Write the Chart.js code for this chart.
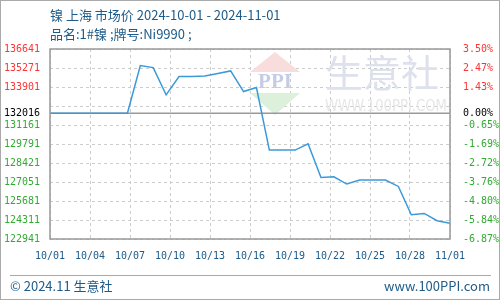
<!DOCTYPE html>
<html>
<head>
<meta charset="utf-8">
<script src="https://cdn.jsdelivr.net/npm/chart.js@4.4.1/dist/chart.umd.min.js"></script>
<style>
body { margin: 0; background: #fff; }
canvas { display: block; }
</style>
</head>
<body>
<canvas id="priceChart" width="500" height="300"></canvas>
<script>
// Daily prices, 10/01 .. 11/01
const dates = ['10/01','10/02','10/03','10/04','10/05','10/06','10/07','10/08','10/09','10/10',
               '10/11','10/12','10/13','10/14','10/15','10/16','10/17','10/18','10/19','10/20',
               '10/21','10/22','10/23','10/24','10/25','10/26','10/27','10/28','10/29','10/30',
               '10/31','11/01'];
const prices = [132016, 132016, 132016, 132016, 132016, 132016, 132016, 135443, 135299, 133334,
                134651, 134651, 134700, 134882, 135062, 133571, 133859, 129352, 129352, 129352,
                129806, 127379, 127430, 126904, 127192, 127192, 127192, 126731, 124694, 124787,
                124262, 124067];
const baseValue = 132016;

// Axis ticks
const tickValues = [136641, 135271, 133901, 132531, 132016, 131161, 129791, 128421, 127051, 125681, 124311, 122941];
const leftLabels = ['136641', '135271', '133901', '', '132016', '131161', '129791', '128421', '127051', '125681', '124311', '122941'];
const rightLabels = ['3.50%', '2.47%', '1.43%', '', '0.00%', '-0.65%', '-1.69%', '-2.72%', '-3.76%', '-4.80%', '-5.84%', '-6.87%'];
const xLabels = ['10/01', '10/04', '10/07', '10/10', '10/13', '10/16', '10/19', '10/22', '10/25', '10/28', '11/01'];

const titleText = '镍 上海 市场价 2024-10-01 - 2024-11-01';
const subTitleText = '品名:1#镍 ;牌号:Ni9990 ;';

const monoFont = { family: 'DejaVu Sans Mono', size: 10 };
const textBlue = '#1d5b8a';

function tickColor(value) {
    if (value > baseValue) return '#ff3333';
    if (value < baseValue) return '#33aa33';
    return '#000000';
}

function yTicks(scale) {
    scale.ticks = tickValues.map(v => ({ value: v })).sort((a, b) => a.value - b.value);
}

// frame, titles, footer and watermark
const decorPlugin = {
    id: 'decor',
    beforeDatasetsDraw(chart) {
        const ctx = chart.ctx;
        ctx.save();
        // logo
        const cx = 275;
        ctx.fillStyle = '#f9dcdc';
        ctx.beginPath();
        ctx.moveTo(cx, 52); ctx.lineTo(cx + 25, 72); ctx.lineTo(cx - 25, 72); ctx.closePath();
        ctx.fill();
        ctx.fillStyle = '#dcf0dc';
        ctx.beginPath();
        ctx.moveTo(cx - 25, 93); ctx.lineTo(cx + 25, 93); ctx.lineTo(cx, 115); ctx.closePath();
        ctx.fill();
        ctx.fillStyle = '#c5cde6';
        ctx.font = 'bold 21px "Liberation Serif"';
        ctx.textAlign = 'center';
        ctx.textBaseline = 'middle';
        ctx.fillText('PPI', cx, 83);
        // big text watermark
        ctx.fillStyle = '#dde1ec';
        ctx.font = '38px "Noto Sans CJK SC"';
        ctx.textAlign = 'left';
        ctx.fillText('生意社', 325, 73, 122);
        ctx.fillStyle = '#e6e6e6';
        ctx.font = '16px "DejaVu Sans"';
        ctx.fillText('WWW.100PPI.COM', 325, 107, 122);
        ctx.restore();
    },
    afterDraw(chart) {
        const ctx = chart.ctx;
        const a = chart.chartArea;
        ctx.save();
        ctx.strokeStyle = '#999999';
        ctx.lineWidth = 1.5;
        ctx.strokeRect(a.left, a.top, a.right - a.left, a.bottom - a.top);
        ctx.lineWidth = 1;
        ctx.strokeStyle = '#aaaaaa';
        ctx.strokeRect(0.5, 0.5, 499, 299);
        ctx.beginPath();
        ctx.moveTo(10, 275.5); ctx.lineTo(491, 275.5);
        ctx.stroke();

        ctx.fillStyle = textBlue;
        ctx.textBaseline = 'middle';
        ctx.textAlign = 'left';
        ctx.font = '13px "Noto Sans CJK SC"';
        ctx.fillText(titleText, 50, 15);
        ctx.fillText(subTitleText, 50, 34);
        ctx.fillText('© 2024.11 生意社', 10, 286);
        ctx.textAlign = 'right';
        ctx.fillText('www.100PPI.com', 490, 286);
        ctx.restore();
    }
};

const ctx = document.getElementById('priceChart').getContext('2d');
new Chart(ctx, {
    type: 'line',
    data: {
        datasets: [{
            data: prices.map((p, i) => ({ x: i, y: p })),
            borderColor: '#3a9ad9',
            borderWidth: 1.5,
            pointRadius: 0,
            tension: 0,
            fill: false,
            order: 1
        }, {
            // base price line
            data: [{ x: 0, y: baseValue }, { x: dates.length - 1, y: baseValue }],
            borderColor: '#999999',
            borderWidth: 1.5,
            pointRadius: 0,
            order: 2
        }]
    },
    options: {
        responsive: false,
        animation: false,
        events: [],
        layout: { padding: { left: 0, right: 0, top: 49, bottom: 39 } },
        plugins: { legend: { display: false }, tooltip: { enabled: false } },
        scales: {
            x: {
                type: 'linear',
                min: 0,
                max: dates.length - 1,
                afterBuildTicks: scale => {
                    scale.ticks = xLabels.map((l, i) => ({ value: i * (dates.length - 1) / (xLabels.length - 1) }));
                },
                afterFit: scale => { scale.height = 22; },
                ticks: {
                    autoSkip: false,
                    maxRotation: 0,
                    padding: 11,
                    color: textBlue,
                    font: monoFont,
                    callback: (v, i) => xLabels[i]
                },
                grid: { color: '#cccccc', drawTicks: false },
                border: { display: false, dash: [3, 3] }
            },
            y: {
                position: 'left',
                min: 122941,
                max: 136641,
                afterBuildTicks: yTicks,
                afterFit: scale => { scale.width = 50; },
                ticks: {
                    autoSkip: false,
                    padding: 10,
                    font: monoFont,
                    color: c => tickColor(c.tick.value),
                    callback: v => leftLabels[tickValues.indexOf(v)]
                },
                grid: { color: c => (c.tick && c.tick.value === baseValue) ? 'rgba(0,0,0,0)' : '#cccccc', drawTicks: false },
                border: { display: false, dash: [3, 3] }
            },
            y2: {
                position: 'right',
                min: 122941,
                max: 136641,
                afterBuildTicks: yTicks,
                afterFit: scale => { scale.width = 50; },
                ticks: {
                    autoSkip: false,
                    padding: 5,
                    font: monoFont,
                    color: c => tickColor(c.tick.value),
                    callback: v => rightLabels[tickValues.indexOf(v)]
                },
                grid: { display: false },
                border: { display: false }
            }
        }
    },
    plugins: [decorPlugin]
});
</script>
</body>
</html>
